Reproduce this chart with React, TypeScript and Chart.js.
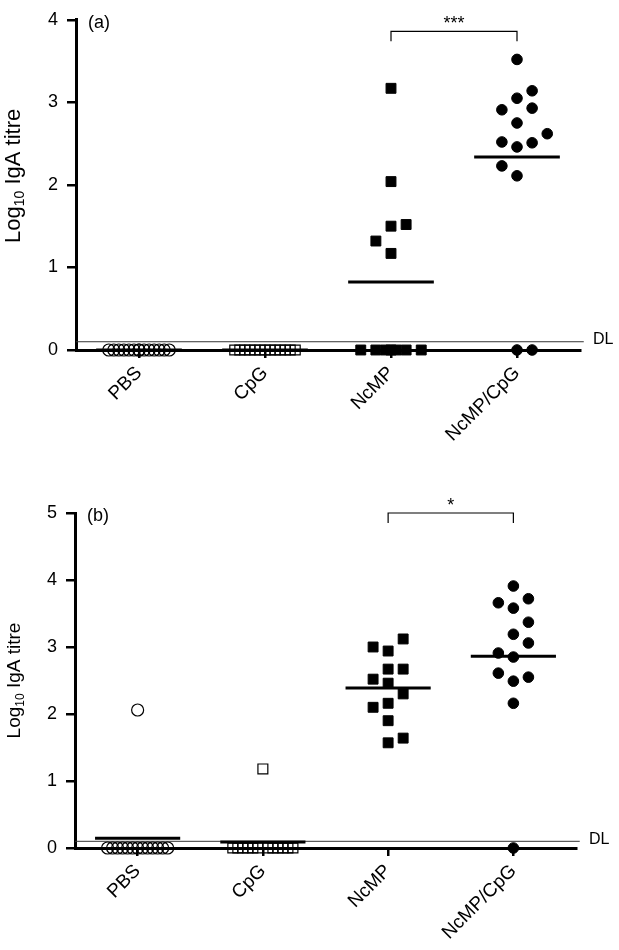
import React, { useEffect, useRef } from 'react';
import { Chart, registerables } from 'chart.js';
Chart.register(...registerables);

const FONT = "'Liberation Sans', Arial, Helvetica, sans-serif";

const categories = ['PBS', 'CpG', 'NcMP', 'NcMP/CpG'];
const yTicksA = [0, 1, 2, 3, 4];
const yTicksB = [0, 1, 2, 3, 4, 5];
const detectionLimit = 0.1;

// Panel (a): log10 IgA titre per animal
const aPBS = [0, 0, 0, 0, 0, 0, 0, 0, 0, 0, 0, 0, 0, 0];
const aCpG = [0, 0, 0, 0, 0, 0, 0, 0, 0, 0, 0, 0, 0];
const aNcMP = [3.17, 2.04, 1.52, 1.5, 1.32, 1.17, 0, 0, 0, 0, 0, 0, 0];
const aNcMPCpG = [3.52, 3.14, 3.05, 2.91, 2.93, 2.75, 2.62, 2.52, 2.46, 2.51, 2.23, 2.11, 0, 0];
// column-scatter slot of each animal within its column
const aPBSSlots = [-6, -5, -4, -3, -2, -1, 0, 0, 1, 2, 3, 4, 5, 6];
const aCpGSlots = [-6, -5, -4, -3, -2, -1, 0, 1, 2, 3, 4, 5, 6];
const aNcMPSlots = [0, 0, 3, 0, -3, 0, -6, -3, -1, 0, 1, 3, 6];
const aNcMPCpGSlots = [0, 3, 0, -3, 3, 0, 6, -3, 0, 3, -3, 0, 0, 3];

// Panel (b)
const bPBS = [2.06, 0, 0, 0, 0, 0, 0, 0, 0, 0, 0, 0, 0, 0];
const bCpG = [1.18, 0, 0, 0, 0, 0, 0, 0, 0, 0, 0, 0, 0];
const bNcMP = [3.12, 3.0, 2.94, 2.67, 2.67, 2.52, 2.46, 2.3, 2.1, 2.16, 1.9, 1.57, 1.64];
const bNcMPCpG = [3.91, 3.66, 3.72, 3.58, 3.37, 3.19, 3.06, 2.91, 2.85, 2.61, 2.49, 2.55, 2.16, 0];
const bPBSSlots = [0, -6, -5, -4, -3, -2, -1, 0, 1, 2, 3, 4, 5, 6];
const bCpGSlots = [0, -6, -5, -4, -3, -2, -1, 1, 2, 3, 4, 5, 6];
const bNcMPSlots = [3, -3, 0, 0, 3, -3, 0, 3, -3, 0, 0, 0, 3];
const bNcMPCpGSlots = [0, -3, 3, 0, 3, 0, 3, -3, 0, -3, 0, 3, 0, 0];

const sigA = { from: 2, to: 3, level: 3.86, label: '***' };
const sigB = { from: 2, to: 3, level: 5.0, label: '*' };

const X_MIN = -0.5;
const X_MAX = 3.5;
const SLOT = 0.04;
const MEAN_HALF = 0.34;

const groupStyles = [
  { pointStyle: 'circle', radius: 6, fill: 'rgba(0,0,0,0)', border: 1.2 },
  { pointStyle: 'rect', radius: 7, fill: 'rgba(0,0,0,0)', border: 1.2 },
  { pointStyle: 'rect', radius: 7, fill: '#000', border: 1 },
  { pointStyle: 'circle', radius: 5.3, fill: '#000', border: 1 },
];

type PanelDef = {
  tag: string;
  groups: number[][];
  slots: number[][];
  yTicks: number[];
  yMax: number;
  sig: { from: number; to: number; level: number; label: string };
  top: number;
  height: number;
  padTop: number;
  padRight: number;
  yAxisWidth: number;
  xAxisHeight: number;
  titleShift: number;
  titleSize: number;
};

const panelA: PanelDef = {
  tag: '(a)',
  groups: [aPBS, aCpG, aNcMP, aNcMPCpG],
  slots: [aPBSSlots, aCpGSlots, aNcMPSlots, aNcMPCpGSlots],
  yTicks: yTicksA,
  yMax: 4,
  sig: sigA,
  top: 0,
  height: 460,
  padTop: 13,
  padRight: 39,
  yAxisWidth: 76,
  xAxisHeight: 110,
  titleShift: -9,
  titleSize: 22,
};

const panelB: PanelDef = {
  tag: '(b)',
  groups: [bPBS, bCpG, bNcMP, bNcMPCpG],
  slots: [bPBSSlots, bCpGSlots, bNcMPSlots, bNcMPCpGSlots],
  yTicks: yTicksB,
  yMax: 5,
  sig: sigB,
  top: 460,
  height: 490,
  padTop: 53,
  padRight: 43,
  yAxisWidth: 75,
  xAxisHeight: 102,
  titleShift: 0,
  titleSize: 19,
};

function buildChart(canvas: HTMLCanvasElement, p: PanelDef) {
  const datasets: any[] = [];
  p.groups.forEach((vals, i) => {
    const st = groupStyles[i];
    datasets.push({
      type: 'scatter',
      data: vals.map((v, k) => ({ x: i + p.slots[i][k] * SLOT, y: v })),
      pointStyle: st.pointStyle,
      pointRadius: st.radius,
      pointBackgroundColor: st.fill,
      pointBorderColor: '#000',
      pointBorderWidth: st.border,
      showLine: false,
      clip: false,
    });
  });
  p.groups.forEach((vals, i) => {
    const m = vals.reduce((s, v) => s + v, 0) / vals.length;
    datasets.push({
      type: 'line',
      data: [
        { x: i - MEAN_HALF, y: m },
        { x: i + MEAN_HALF, y: m },
      ],
      borderColor: '#000',
      borderWidth: 3,
      pointRadius: 0,
      clip: false,
    });
  });
  datasets.push({
    type: 'line',
    data: [
      { x: X_MIN, y: detectionLimit },
      { x: X_MAX + 0.03, y: detectionLimit },
    ],
    borderColor: '#333',
    borderWidth: 1,
    pointRadius: 0,
    clip: false,
  });

  const annotate = {
    id: 'annotate',
    afterDraw(chart: any) {
      const { ctx, chartArea } = chart;
      const xs = chart.scales.x;
      const ys = chart.scales.y;
      ctx.save();
      ctx.fillStyle = '#000';
      ctx.strokeStyle = '#000';
      // DL label
      ctx.font = `16px ${FONT}`;
      ctx.textAlign = 'left';
      ctx.textBaseline = 'middle';
      ctx.fillText('DL', chartArea.right + 13, ys.getPixelForValue(detectionLimit) - 2);
      // panel tag
      ctx.font = `18px ${FONT}`;
      ctx.fillText(p.tag, chartArea.left + 12, chartArea.top + 3);
      // significance bracket
      const x1 = xs.getPixelForValue(p.sig.from);
      const x2 = xs.getPixelForValue(p.sig.to);
      const yb = ys.getPixelForValue(p.sig.level);
      ctx.lineWidth = 1.2;
      ctx.beginPath();
      ctx.moveTo(x1, yb + 10);
      ctx.lineTo(x1, yb);
      ctx.lineTo(x2, yb);
      ctx.lineTo(x2, yb + 10);
      ctx.stroke();
      ctx.font = `18px ${FONT}`;
      ctx.textAlign = 'center';
      ctx.textBaseline = 'alphabetic';
      ctx.fillText(p.sig.label, (x1 + x2) / 2, yb - 2);
      // y axis title with subscript
      const big = `${p.titleSize}px ${FONT}`;
      const small = `${Math.round(p.titleSize * 0.62)}px ${FONT}`;
      ctx.font = big;
      const w1 = ctx.measureText('Log').width;
      const w3 = ctx.measureText(' IgA titre').width;
      ctx.font = small;
      const w2 = ctx.measureText('10').width;
      const total = w1 + w2 + w3;
      const cy = (chartArea.top + chartArea.bottom) / 2 + p.titleShift;
      ctx.translate(20, cy);
      ctx.rotate(-Math.PI / 2);
      ctx.textAlign = 'left';
      ctx.textBaseline = 'alphabetic';
      let cx = -total / 2;
      ctx.font = big;
      ctx.fillText('Log', cx, 0);
      cx += w1;
      ctx.font = small;
      ctx.fillText('10', cx, 4);
      cx += w2;
      ctx.font = big;
      ctx.fillText(' IgA titre', cx, 0);
      ctx.restore();
    },
  };

  return new Chart(canvas, {
    type: 'scatter',
    data: { datasets },
    plugins: [annotate],
    options: {
      responsive: false,
      animation: false,
      devicePixelRatio: 1,
      events: [],
      layout: { padding: { top: p.padTop, right: p.padRight, left: 0, bottom: 0 } },
      plugins: { legend: { display: false }, tooltip: { enabled: false } },
      scales: {
        x: {
          type: 'linear',
          min: X_MIN,
          max: X_MAX,
          afterFit: (s: any) => {
            s.height = p.xAxisHeight;
          },
          afterBuildTicks: (s: any) => {
            s.ticks = categories.map((_, i) => ({ value: i }));
          },
          ticks: {
            autoSkip: false,
            minRotation: 45,
            maxRotation: 45,
            padding: 4,
            color: '#000',
            font: { family: FONT, size: 19 },
            callback: (v: any) => categories[v as number] ?? '',
          },
          grid: { drawOnChartArea: false, tickLength: 8, lineWidth: 2.5, color: '#000' },
          border: { display: true, width: 3, color: '#000' },
        },
        y: {
          type: 'linear',
          min: 0,
          max: p.yMax,
          afterFit: (s: any) => {
            s.width = p.yAxisWidth;
          },
          afterBuildTicks: (s: any) => {
            s.ticks = p.yTicks.map((v) => ({ value: v }));
          },
          ticks: {
            padding: 9,
            color: '#000',
            font: { family: FONT, size: 18 },
            callback: (v: any) => String(v),
          },
          grid: { drawOnChartArea: false, tickLength: 9, lineWidth: 2.5, color: '#000' },
          border: { display: true, width: 3, color: '#000' },
        },
      },
    } as any,
  } as any);
}

function Panel({ p }: { p: PanelDef }) {
  const ref = useRef<HTMLCanvasElement | null>(null);
  useEffect(() => {
    if (!ref.current) return;
    const chart = buildChart(ref.current, p);
    return () => chart.destroy();
  }, [p]);
  return (
    <canvas
      ref={ref}
      width={619}
      height={p.height}
      style={{ position: 'absolute', left: 0, top: p.top, width: 619, height: p.height }}
    />
  );
}

export default function App() {
  return (
    <div style={{ position: 'fixed', left: 0, top: 0, width: 619, height: 950, background: '#fff' }}>
      <Panel p={panelA} />
      <Panel p={panelB} />
    </div>
  );
}
